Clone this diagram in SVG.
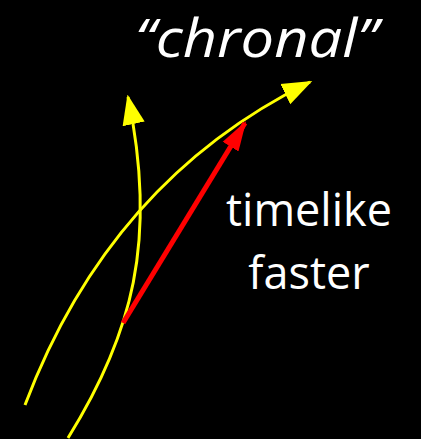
<svg xmlns="http://www.w3.org/2000/svg" width="421" height="439" viewBox="0 0 421 439">
<style>
.y{fill:none;stroke:#ffff00;stroke-width:3}
.r{fill:none;stroke:#ff0000;stroke-width:5}
.t{fill:#fff;font-family:"Open Sans",Lato,sans-serif}
</style>
<defs>
<marker id="ya" markerUnits="userSpaceOnUse" markerWidth="30" markerHeight="30" viewBox="0 0 24 18" refX="22" refY="9" orient="auto" >
<path d="M0,0 L24,9 L0,18 Z" fill="#ffff00"/>
</marker>
<marker id="ra" markerUnits="userSpaceOnUse" markerWidth="30" markerHeight="30" viewBox="0 0 26 16" refX="24" refY="8" orient="auto">
<path d="M0,0 L26,8 L0,16 Z" fill="#ff0000"/>
</marker>
</defs>
<rect width="421" height="439" fill="#000"/>
<g id="connectors">
<path id="curve1" class="y" d="M25,405 Q110,180 310,82" marker-end="url(#ya)"/>
<path id="curve2" class="y" d="M68,438 C132,335 158,240 128,97" marker-end="url(#ya)"/>
<path id="red" class="r" d="M123,323 L245,123" marker-end="url(#ra)"/>
</g>
<g id="label-chronal"><text class="t" x="135" y="57" font-size="53" font-style="italic" textLength="243" lengthAdjust="spacingAndGlyphs">“chronal”</text></g>
<g id="label-timelike"><text class="t" x="309" y="226" font-size="45" text-anchor="middle">timelike</text></g>
<g id="label-faster"><text class="t" x="309" y="289" font-size="45" text-anchor="middle">faster</text></g>
</svg>
